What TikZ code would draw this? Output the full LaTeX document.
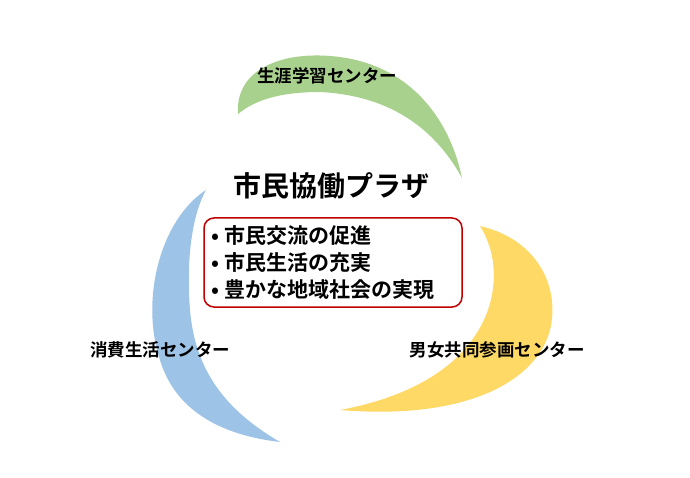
\documentclass[tikz,border=0pt]{standalone}
\usepackage{fontspec}
\newfontfamily\jp{Noto Sans CJK JP}
\newfontfamily\jpb{Noto Sans CJK JP Bold}
\definecolor{gr}{HTML}{A9D18E}
\definecolor{bl}{HTML}{9DC3E6}
\definecolor{ye}{HTML}{FFD966}
\definecolor{rd}{HTML}{C00000}
\tikzset{lbl/.style={font=\jpb\fontsize{17.5}{20}\selectfont},
blade/.style={draw=none}}
\begin{document}
\begin{tikzpicture}[x=1pt,y=-1pt]
\useasboundingbox (0,0) rectangle (690,478);
\fill[white] (0,0) rectangle (690,478);
% green
\fill[gr] (238,114) .. controls (235,70) and (280,52) .. (330,56)
  .. controls (410,62) and (450,120) .. (462,178)
  .. controls (430,120) and (380,95) .. (320,92)
  .. controls (280,92) and (255,100) .. (238,114) -- cycle;
% blue
\fill[bl] (206,190) .. controls (160,220) and (140,300) .. (160,360)
  .. controls (175,410) and (220,435) .. (280,442)
  .. controls (225,410) and (195,370) .. (190,310)
  .. controls (186,260) and (192,215) .. (206,190) -- cycle;
% yellow
\fill[ye] (480,226) .. controls (540,240) and (560,290) .. (550,330)
  .. controls (535,385) and (460,420) .. (340,410)
  .. controls (420,395) and (470,360) .. (488,310)
  .. controls (498,280) and (495,250) .. (480,226) -- cycle;
\node[font=\jpb\fontsize{28}{32}\selectfont] (title) at (331,186) {市民協働プラザ};
\draw[rd,line width=1.5pt,rounded corners=10pt] (204,218) rectangle (462,307);
\node[font=\jpb\fontsize{21}{27}\selectfont,align=left,anchor=west] (list) at (208,263)
 {•\ 市民交流の促進\\•\ 市民生活の充実\\•\ 豊かな地域社会の実現};
\node[lbl] (a) at (327,76) {生涯学習センター};
\node[lbl] (b) at (160,350) {消費生活センター};
\node[lbl] (c) at (497,350) {男女共同参画センター};
\end{tikzpicture}
\end{document}
